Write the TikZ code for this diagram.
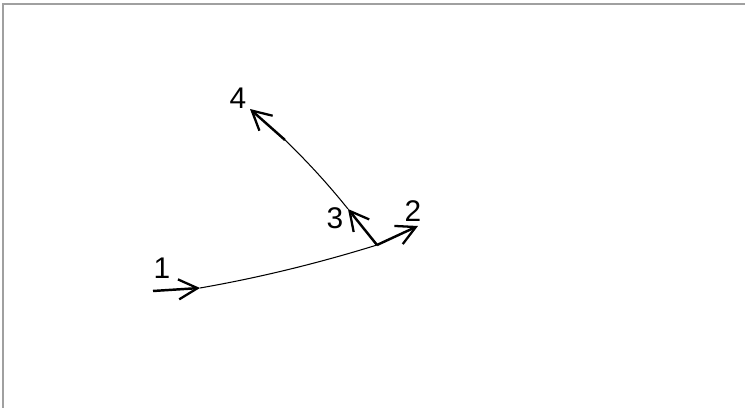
\documentclass[tikz,border=0pt]{standalone}
\usepackage{fontspec}
\setmainfont{Liberation Sans}
\usepackage{xcolor}
\usepackage{tikz}
\usetikzlibrary{arrows.meta,positioning,calc}
\definecolor{FrameGray}{HTML}{A0A0A0}

\begin{document}
\begin{tikzpicture}[x=0.02cm,y=-0.02cm,
  vec/.style={line width=1.4pt,-{Straight Barb[length=3.8mm,width=4mm,line width=1.3pt]}},
  path/.style={line width=0.6pt},
  lbl/.style={font=\fontsize{17}{20}\selectfont,inner sep=0pt}]
\useasboundingbox (0,0) rectangle (745,408);
\draw[FrameGray,line width=0.8pt] (3,408) -- (3,4) -- (745,4);
% points of the track
\coordinate (s1) at (153,291);
\coordinate (p1) at (200,288);
\coordinate (p2) at (377,245);
\coordinate (e2) at (418,226);
\coordinate (p3) at (348,209);
\coordinate (q4) at (285,140);
\coordinate (p4) at (250,109);
% labels
\node[lbl] (n1) at (162,268) {1};
\node[lbl] (n2) at (413,211) {2};
\node[lbl] (n3) at (335,218) {3};
\node[lbl] (n4) at (238,98) {4};
% track
\draw[path] (p1) .. controls (259,277.7) and (318,263.3) .. (p2);
\draw[path] (p3) .. controls (328.5,184.7) and (307.5,161.7) .. (q4);
% vectors
\draw[vec] (s1) -- (p1);
\draw[vec] (p2) -- (e2);
\draw[vec] (p2) -- (p3);
\draw[vec] (q4) -- (p4);
\end{tikzpicture}
\end{document}
